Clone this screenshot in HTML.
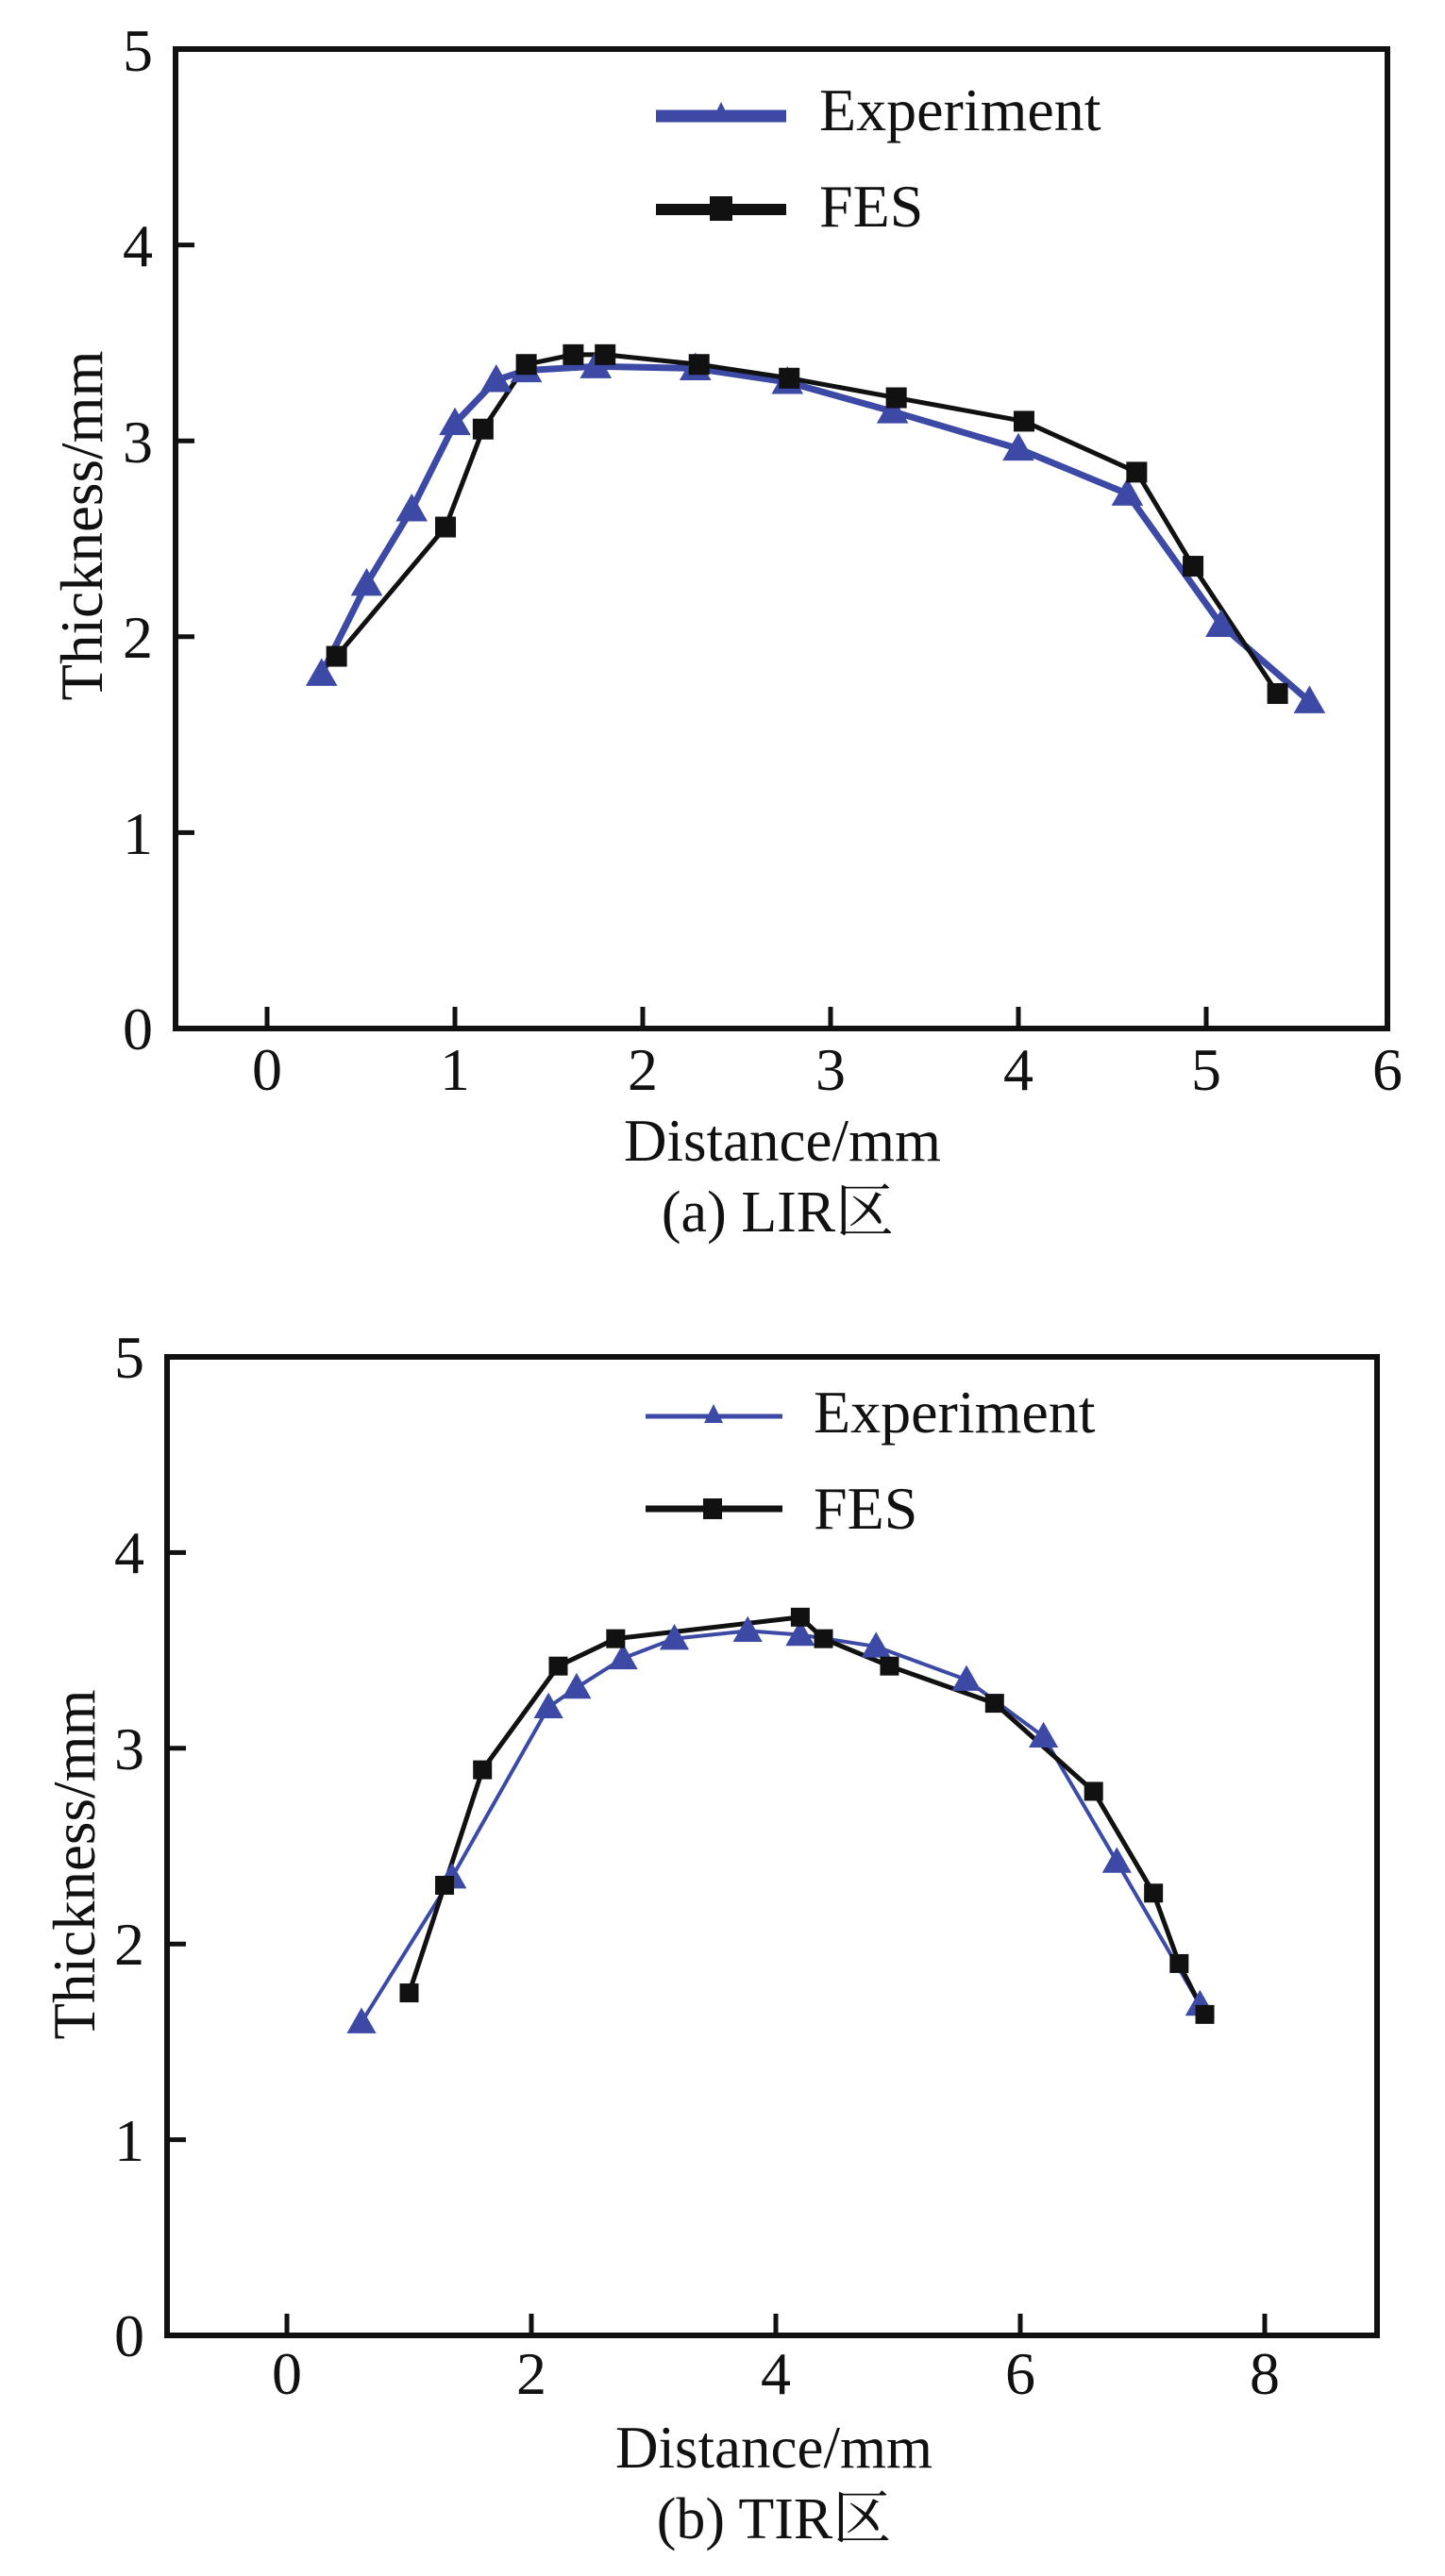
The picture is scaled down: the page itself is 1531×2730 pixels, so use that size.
<!DOCTYPE html>
<html><head><meta charset="utf-8"><style>
html,body{margin:0;padding:0;background:#fff;}
svg{display:block;}
text{font-family:"Liberation Serif","Noto Serif CJK SC",serif;fill:#111;}
</style></head><body>
<svg id="s" width="1531" height="2730" viewBox="0 0 1531 2730" xmlns="http://www.w3.org/2000/svg">
<!-- Plot A -->
<rect x="186" y="52" width="1284" height="1038" fill="none" stroke="#111" stroke-width="6"/>
<g font-size="64" text-anchor="middle">
<text x="283" y="1155">0</text><text x="482" y="1155">1</text><text x="681" y="1155">2</text><text x="880" y="1155">3</text><text x="1079" y="1155">4</text><text x="1278" y="1155">5</text><text x="1470" y="1155">6</text>
</g>
<g font-size="64" text-anchor="end">
<text x="162" y="1112">0</text><text x="162" y="905">1</text><text x="162" y="697">2</text><text x="162" y="490">3</text><text x="162" y="282">4</text><text x="162" y="75">5</text>
</g>
<text x="829" y="1230" font-size="63" text-anchor="middle">Distance/mm</text>
<text x="824" y="1305" font-size="62" text-anchor="middle">(a) LIR区</text>
<text transform="translate(108,557) rotate(-90)" font-size="63" text-anchor="middle">Thickness/mm</text>
<line x1="695" y1="123" x2="833" y2="123" stroke="#3c4aa6" stroke-width="13"/>
<polygon points="764,108 754,128 774,128" fill="#3c4aa6"/>
<text x="868" y="138" font-size="64">Experiment</text>
<line x1="695" y1="222" x2="833" y2="222" stroke="#111" stroke-width="12"/>
<rect x="752" y="208" width="24" height="26" fill="#111"/>
<text x="868" y="240" font-size="64">FES</text>
<g id="ga"></g>
<!-- Plot B -->
<rect x="177" y="1438" width="1282" height="1037" fill="none" stroke="#111" stroke-width="6"/>
<g font-size="64" text-anchor="middle">
<text x="304" y="2537">0</text><text x="563" y="2537">2</text><text x="822" y="2537">4</text><text x="1081" y="2537">6</text><text x="1340" y="2537">8</text>
</g>
<g font-size="64" text-anchor="end">
<text x="153" y="2497">0</text><text x="153" y="2290">1</text><text x="153" y="2082">2</text><text x="153" y="1875">3</text><text x="153" y="1667">4</text><text x="153" y="1460">5</text>
</g>
<text x="820" y="2615" font-size="63" text-anchor="middle">Distance/mm</text>
<text x="820" y="2690" font-size="62" text-anchor="middle">(b) TIR区</text>
<text transform="translate(100,1976) rotate(-90)" font-size="63" text-anchor="middle">Thickness/mm</text>
<line x1="684" y1="1501" x2="829" y2="1501" stroke="#3c4aa6" stroke-width="5"/>
<polygon points="756,1488 746,1508 766,1508" fill="#3c4aa6"/>
<text x="862" y="1518" font-size="64">Experiment</text>
<line x1="684" y1="1599" x2="829" y2="1599" stroke="#111" stroke-width="7"/>
<rect x="745" y="1588" width="20" height="22" fill="#111"/>
<text x="862" y="1620" font-size="64">FES</text>
<g id="gb"></g>
</svg>
<script>
var NS="http://www.w3.org/2000/svg";
function el(g,t,a){var e=document.createElementNS(NS,t);for(var k in a)e.setAttribute(k,a[k]);g.appendChild(e);return e;}
function plot(gid,ax,expD,fesD,wE,wF,tri,sq){
 var g=document.getElementById(gid);
 // ticks
 ax.xt.forEach(function(v){var x=ax.x0+v*ax.ux;el(g,"line",{x1:x,y1:ax.y0,x2:x,y2:ax.y0-23,stroke:"#111","stroke-width":5});});
 for(var i=1;i<5;i++){var y=ax.y0-i*ax.uy;el(g,"line",{x1:ax.left,y1:y,x2:ax.left+20,y2:y,stroke:"#111","stroke-width":5});}
 function P(d){return d.map(function(p){return [ax.x0+p[0]*ax.ux, ax.y0-p[1]*ax.uy];});}
 var e=P(expD),f=P(fesD);
 el(g,"polyline",{points:e.map(function(p){return p.join(",")}).join(" "),fill:"none",stroke:"#3c4aa6","stroke-width":wE,"stroke-linejoin":"round"});
 el(g,"polyline",{points:f.map(function(p){return p.join(",")}).join(" "),fill:"none",stroke:"#111","stroke-width":wF,"stroke-linejoin":"round"});
 e.forEach(function(p){var h=tri;el(g,"polygon",{points:(p[0])+","+(p[1]-h*0.6)+" "+(p[0]-h*0.6)+","+(p[1]+h*0.45)+" "+(p[0]+h*0.6)+","+(p[1]+h*0.45),fill:"#3c4aa6"});});
 f.forEach(function(p){el(g,"rect",{x:p[0]-sq/2,y:p[1]-sq/2,width:sq,height:sq,fill:"#111"});});
}
plot("ga",{x0:283,ux:199,y0:1090,uy:207.6,left:186,xt:[0,1,2,3,4,5]},
[[0.29,1.81],[0.53,2.27],[0.77,2.65],[1.0,3.09],[1.22,3.31],[1.38,3.36],[1.75,3.38],[2.28,3.37],[2.77,3.30],[3.33,3.15],[4.0,2.96],[4.58,2.73],[5.08,2.06],[5.55,1.67]],
[[0.37,1.90],[0.95,2.56],[1.15,3.06],[1.38,3.39],[1.63,3.44],[1.8,3.44],[2.3,3.39],[2.78,3.32],[3.35,3.22],[4.03,3.10],[4.63,2.84],[4.93,2.36],[5.38,1.71]],7,5,28,22);
plot("gb",{x0:304,ux:129.5,y0:2475,uy:207.4,left:177,xt:[0,2,4,6,8]},
[[0.61,1.60],[1.35,2.34],[2.14,3.21],[2.37,3.31],[2.75,3.46],[3.17,3.56],[3.77,3.60],[4.2,3.58],[4.82,3.52],[5.56,3.35],[6.19,3.06],[6.79,2.42],[7.47,1.69]],
[[1.0,1.75],[1.29,2.30],[1.6,2.89],[2.22,3.42],[2.69,3.56],[4.2,3.67],[4.39,3.56],[4.93,3.42],[5.79,3.23],[6.6,2.78],[7.09,2.26],[7.3,1.90],[7.51,1.64]],4,5,26,20);
</script>
</body></html>
